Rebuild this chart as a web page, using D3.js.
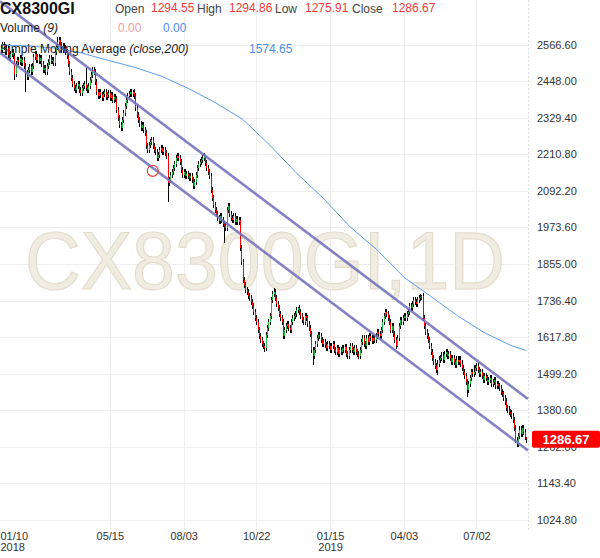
<!DOCTYPE html>
<html><head><meta charset="utf-8">
<script src="https://cdn.jsdelivr.net/npm/d3@7"></script>
<style>body{margin:0;background:#fff}svg{display:block}text{font-family:Arial,"Liberation Sans",sans-serif}</style>
</head><body><svg id="c" width="600" height="558"></svg>
<script>
// ---------- DATA ----------
const firstOpen = 2555;
const closes = [
2549,2565,2559,2543,2555,2533,2523,2536,2543,2530,
2471,2504,2517,2510,2523,2507,2517,2497,2474,2462,
2484,2494,2478,2497,2526,2536,2517,2526,2513,2523,
2504,2484,2491,2478,2497,2510,2523,2513,2517,2507,
2543,2559,2575,2581,2565,2549,2562,2555,2543,2530,
2504,2478,2458,2439,2426,2419,2432,2439,2419,2410,
2426,2432,2439,2426,2419,2432,2452,2468,2484,2478,
2445,2413,2400,2413,2403,2393,2406,2413,2397,2403,
2410,2393,2403,2387,2397,2390,2355,2329,2306,2296,
2322,2345,2368,2387,2400,2406,2413,2406,2413,2400,
2361,2338,2322,2309,2296,2306,2290,2280,2238,2225,
2241,2251,2257,2238,2225,2219,2199,2209,2225,2231,
2219,2225,2215,2206,2118,2128,2144,2154,2167,2180,
2199,2206,2199,2186,2160,2144,2154,2141,2147,2141,
2134,2141,2128,2108,2121,2144,2167,2180,2186,2193,
2199,2206,2183,2167,2154,2141,2095,2069,2047,2031,
2018,2005,1995,2011,1998,1985,1979,1972,2031,2044,
2018,2005,1998,2011,1992,2001,1992,1998,1907,1862,
1804,1788,1771,1765,1752,1745,1733,1720,1700,1681,
1668,1642,1622,1609,1596,1590,1583,1626,1648,1668,
1687,1739,1758,1765,1745,1726,1713,1694,1681,1668,
1622,1642,1655,1661,1648,1642,1668,1681,1687,1694,
1707,1713,1700,1687,1674,1668,1687,1681,1661,1648,
1629,1577,1558,1577,1596,1616,1626,1622,1609,1596,
1603,1593,1583,1596,1590,1577,1590,1596,1577,1570,
1583,1564,1577,1570,1583,1577,1587,1564,1558,1577,
1590,1577,1570,1583,1570,1564,1558,1577,1603,1616,
1596,1590,1616,1603,1622,1616,1606,1616,1609,1622,
1635,1629,1622,1642,1668,1687,1700,1694,1681,1668,
1642,1655,1629,1609,1590,1616,1655,1674,1668,1681,
1687,1681,1694,1700,1720,1713,1726,1739,1733,1726,
1739,1745,1749,1752,1681,1655,1635,1622,1609,1590,
1570,1551,1538,1525,1512,1532,1545,1551,1558,1545,
1564,1570,1558,1564,1551,1538,1551,1538,1528,1545,
1538,1545,1532,1519,1506,1493,1473,1447,1467,1486,
1506,1499,1506,1519,1525,1512,1499,1506,1493,1480,
1493,1486,1473,1480,1486,1467,1473,1480,1460,1467,
1460,1454,1441,1434,1421,1409,1389,1383,1376,1370,
1363,1350,1324,1285,1272,1298,1318,1305,1324,1311,
1294.55,1286.67
];
const wick = 10;
const lowWicks  = [[10,2452],[18,2413],[124,2057],[166,1924],[196,1570],[232,1528],[295,1587],[325,1496],[347,1425],[384,1260]];
const highWicks = [[42,2591],[63,2491],[98,2418],[152,2209],[203,1778],[221,1716],[313,1755],[352,1528]];
const lastBar = {open:1294.55, high:1294.86, low:1275.91, close:1286.67};

const smaIdx = [0,20,40,60,80,100,120,140,160,180,200,220,240,260,280,300,320,340,360,380,391];
const smaVal = [2565,2562,2555,2539,2515,2492,2463,2423,2377,2324,2241,2150,2068,1975,1901,1812,1750,1687,1632,1590,1574.65];
const smaLast = 1574.65;

const yTicks = [1024.8,1143.4,1262.0,1380.6,1499.2,1617.8,1736.4,1855.0,1973.6,2092.2,2210.8,2329.4,2448.0,2566.6];
const xTickIdx  = [0,81,136,190,245,300,354];
const xTickLab  = ["01/10","05/15","08/03","10/22","01/15","04/03","07/02"];
const xTickYear = ["2018","","","","2019","",""];

const channelUpper = [[0,2704],[391,1422]];
const channelLower = [[0,2537],[391,1255]];
const marker = [113,2157];
const symbol = "CX8300GI";
const watermark = "CX8300GI,1D";

// ---------- CHART ----------
const svg = d3.select("#c");
const plotR = 528, plotB = 530;
const N = closes.length;
const x = d3.scaleLinear().domain([0, N-1]).range([1, 526.1]);
const y = d3.scaleLinear().domain([1024.8, 2566.6]).range([520, 44.5]);
const FONT = "Arial, 'Liberation Sans', sans-serif";

const bars = closes.map((c,i)=>{
  const o = i===0 ? firstOpen : (i===N-1 ? lastBar.open : closes[i-1]);
  let h = Math.max(o,c)+wick, l = Math.min(o,c)-wick;
  if (i===N-1){ h = lastBar.high; l = lastBar.low; }
  return {i,o,c,h,l};
});
lowWicks.forEach(([i,v])=>{bars[i].l=v;});
highWicks.forEach(([i,v])=>{bars[i].h=v;});

const g = svg.append("g");
// grid
g.selectAll("line.hg").data(yTicks).join("line")
  .attr("x1",0).attr("x2",plotR).attr("y1",d=>Math.round(y(d))+0.5).attr("y2",d=>Math.round(y(d))+0.5)
  .attr("stroke","#eeeeee");
g.selectAll("line.vg").data(xTickIdx.slice(1)).join("line")
  .attr("y1",0).attr("y2",plotB).attr("x1",d=>Math.round(x(d))+0.5).attr("x2",d=>Math.round(x(d))+0.5)
  .attr("stroke","#eeeeee");
g.append("line").attr("x1",plotR+0.5).attr("x2",plotR+0.5).attr("y1",0).attr("y2",plotB)
  .attr("stroke","#dddddd").attr("stroke-dasharray","2,2");

// watermark
g.append("text").attr("x",25).attr("y",289).text(watermark)
  .attr("font-size",82).attr("textLength",480).attr("lengthAdjust","spacingAndGlyphs")
  .attr("fill","#f1ece2").attr("stroke","#e4dccb").attr("stroke-width",1.2);

// candles
const cg = g.append("g").attr("shape-rendering","crispEdges");
cg.selectAll("line").data(bars).join("line")
  .attr("x1",d=>Math.round(x(d.i))+0.5).attr("x2",d=>Math.round(x(d.i))+0.5)
  .attr("y1",d=>y(d.h)).attr("y2",d=>y(d.l)).attr("stroke","#000");
cg.selectAll("rect").data(bars).join("rect")
  .attr("x",d=>Math.round(x(d.i))).attr("width",1)
  .attr("y",d=>y(Math.max(d.o,d.c))).attr("height",d=>Math.max(1,Math.abs(y(d.o)-y(d.c))))
  .attr("fill",d=>d.c>=d.o?"#22bb44":"#ff0000");

// SMA
g.append("path").datum(smaIdx.map((d,k)=>[d,smaVal[k]]))
  .attr("d",d3.line().x(d=>x(d[0])).y(d=>y(d[1])))
  .attr("fill","none").attr("stroke","#5b9cf2").attr("stroke-width",1);

// channel
function extend(p){
  const [a,b]=p; const s=(b[1]-a[1])/(b[0]-a[0]);
  const i0 = x.invert(0), i1 = x.invert(plotR);
  return [[i0, a[1]+s*(i0-a[0])],[i1, a[1]+s*(i1-a[0])]];
}
[channelUpper, channelLower].forEach(p=>{
  g.append("path").datum(extend(p)).attr("d",d3.line().x(d=>x(d[0])).y(d=>y(d[1])))
   .attr("stroke","#7774bd").attr("stroke-width",2.6).attr("stroke-opacity",0.9).attr("fill","none");
});
g.append("circle").attr("cx",x(marker[0])).attr("cy",y(marker[1])).attr("r",5.5)
  .attr("fill","none").attr("stroke","#e84848").attr("stroke-width",1.2);

// axes
const ya = svg.append("g").attr("transform",`translate(${plotR+2},0)`)
  .call(d3.axisRight(y).tickValues(yTicks).tickSize(0).tickPadding(7).tickFormat(d3.format(".2f")));
ya.select(".domain").remove();
ya.selectAll("text").attr("font-size",11).attr("fill","#333").attr("font-family",FONT);

const xa = svg.append("g").attr("transform",`translate(0,${plotB-2})`)
  .call(d3.axisBottom(x).tickValues(xTickIdx).tickSize(0).tickPadding(4).tickFormat((d,k)=>xTickLab[k]));
xa.select(".domain").remove();
xa.selectAll("text").attr("font-size",11).attr("fill","#333").attr("font-family",FONT);
xa.selectAll(".tick").each(function(d,k){
  const t = d3.select(this);
  if(xTickYear[k]) t.append("text").attr("y",15).attr("dy","0.71em").attr("text-anchor","middle")
    .attr("font-size",11).attr("fill","#333").attr("font-family",FONT).text(xTickYear[k]);
  if(k===0) t.selectAll("text").attr("text-anchor","start").attr("x",-x(d));
});

// last price tag
const ly = y(lastBar.close);
svg.append("rect").attr("x",532).attr("y",ly-8.5).attr("width",68).attr("height",17).attr("rx",2).attr("fill","#ff0000");
svg.append("text").attr("x",566).attr("y",ly+4.5).attr("text-anchor","middle").attr("fill","#fff")
  .attr("font-size",13).attr("font-weight","bold").text(d3.format(".2f")(lastBar.close));

// header
const hd = svg.append("g");
hd.append("text").attr("x",0).attr("y",14).attr("font-size",16).attr("font-weight","bold").attr("fill","#111").text(symbol);
const items = [["Open",lastBar.open,115,151],["High",lastBar.high,197,229],["Low",lastBar.low,275,305],["Close",lastBar.close,352,392]];
items.forEach(([lab,v,lx,vx])=>{
  hd.append("text").attr("x",lx).attr("y",13).attr("font-size",12).attr("fill","#444").text(lab);
  hd.append("text").attr("x",vx).attr("y",12).attr("font-size",12).attr("fill","#f23b3b").text(d3.format(".2f")(v));
});
const vt = hd.append("text").attr("x",0).attr("y",32).attr("font-size",12).attr("fill","#222");
vt.append("tspan").text("Volume ");
vt.append("tspan").attr("font-style","italic").text("(9)");
hd.append("text").attr("x",118).attr("y",32).attr("font-size",12).attr("fill","#f59c9c").text("0.00");
hd.append("text").attr("x",163).attr("y",32).attr("font-size",12).attr("fill","#4a8fe7").text("0.00");
const st = hd.append("text").attr("x",0).attr("y",53).attr("font-size",12).attr("fill","#222");
st.append("tspan").text("Simple Moving Average ");
st.append("tspan").attr("font-style","italic").text("(close,200)");
hd.append("text").attr("x",249).attr("y",53).attr("font-size",12).attr("fill","#4a8fe7").text(d3.format(".2f")(smaLast));
</script></body></html>
